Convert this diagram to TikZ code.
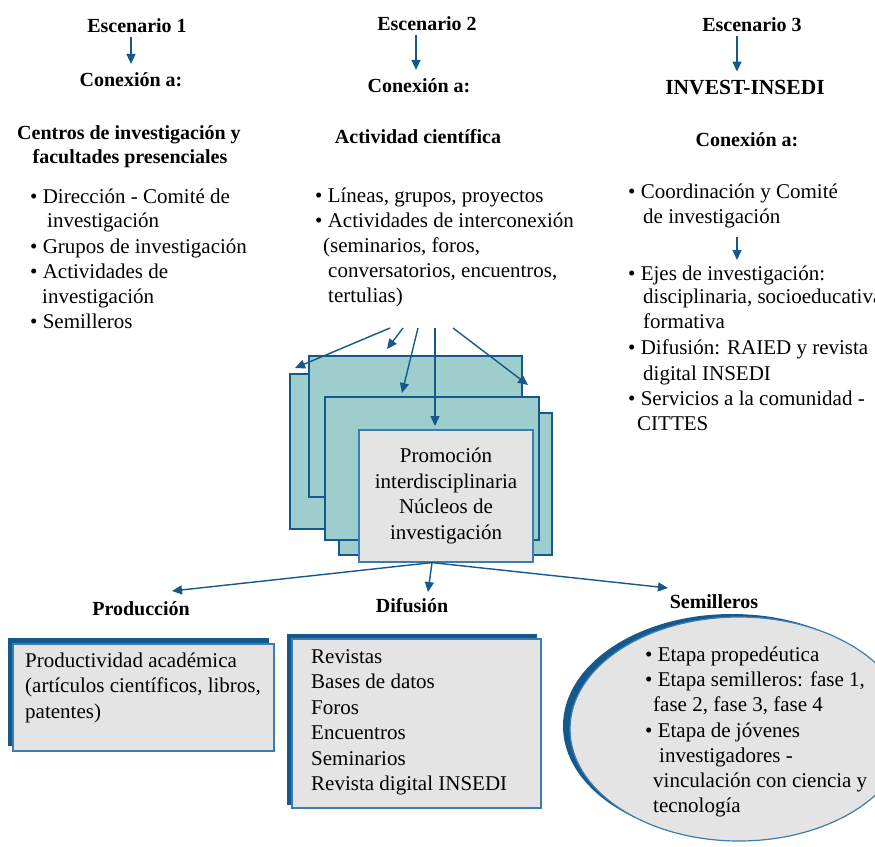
\documentclass[tikz,border=0pt]{standalone}
\usepackage{fontspec}
\setmainfont{Liberation Serif}
\usetikzlibrary{arrows.meta}
\definecolor{navy}{RGB}{20,88,140}
\definecolor{tealfill}{RGB}{157,205,205}
\definecolor{greyfill}{RGB}{227,228,227}
\definecolor{edgeblue}{RGB}{60,125,175}
\newcommand{\bodyfont}{\fontsize{21}{25.5}\selectfont}
\newcommand{\headfont}{\fontsize{20}{25}\selectfont\bfseries}
\begin{document}
\begin{tikzpicture}[x=1pt,y=-1pt,
  txt/.style={anchor=base west, inner sep=0pt, font=\bodyfont},
  hd/.style={anchor=base, inner sep=0pt, font=\headfont},
  arr/.style={draw=navy, line width=1.4pt, -{Triangle[length=10pt,width=9pt]}},
  tealbox/.style={draw=navy, line width=2.6pt, fill=tealfill},
  greybox/.style={draw=edgeblue, line width=1.2pt, fill=greyfill},
  shadowfill/.style={fill=navy, draw=none}]
\useasboundingbox (0,0) rectangle (875,846);

% ---------- Column 1 ----------
\node[hd] (e1) at (137,32) {Escenario 1};
\node[hd] (c1) at (131,86) {Conexión a:};
\node[hd] (t1a) at (129,139) {Centros de investigación y};
\node[hd] (t1b) at (130,163) {facultades presenciales};
\node[txt] (b1a) at (30,203) {• Dirección - Comité de};
\node[txt] (b1b) at (47,227) {investigación};
\node[txt] (b1c) at (30,253) {• Grupos de investigación};
\node[txt] (b1d) at (30,278) {• Actividades de};
\node[txt] (b1e) at (42,303) {investigación};
\node[txt] (b1f) at (30,328) {• Semilleros};
\coordinate (x1) at (131,0);
\draw[arr] ([yshift=-5pt]e1.south -| x1) -- ([yshift=8pt]c1.north -| x1);

% ---------- Column 2 ----------
\node[hd] (e2) at (427,30) {Escenario 2};
\node[hd] (c2) at (419,92) {Conexión a:};
\node[hd] (t2) at (418,143) {Actividad científica};
\node[txt] (b2a) at (315,202) {• Líneas, grupos, proyectos};
\node[txt] (b2b) at (315,227) {• Actividades de interconexión};
\node[txt] (b2c) at (323,252) {(seminarios, foros,};
\node[txt] (b2d) at (328,277) {conversatorios, encuentros,};
\node[txt] (b2e) at (328,302) {tertulias)};
\coordinate (x2) at (416,0);
\draw[arr] ([yshift=-5pt]e2.south -| x2) -- ([yshift=8pt]c2.north -| x2);

% ---------- Column 3 ----------
\node[hd] (e3) at (752,31) {Escenario 3};
\node[hd, font=\fontsize{21.5}{25}\selectfont\bfseries] (i3) at (745,94) {INVEST-INSEDI};
\node[hd] (c3) at (747,146) {Conexión a:};
\node[txt] (b3a) at (628,198) {• Coordinación y Comité};
\node[txt] (b3b) at (643,223) {de investigación};
\node[txt] (b3c) at (628,280) {• Ejes de investigación:};
\node[txt] (b3d) at (643,303) {disciplinaria, socioeducativa};
\node[txt] (b3e) at (643,328) {formativa};
\node[txt] (b3f) at (628,354) {• Difusión: RAIED y revista};
\node[txt] (b3g) at (643,380) {digital INSEDI};
\node[txt] (b3h) at (628,405) {• Servicios a la comunidad -};
\node[txt] (b3i) at (637,430) {CITTES};
\coordinate (x3) at (737,0);
\draw[arr] ([yshift=-5pt]e3.south -| x3) -- ([yshift=8pt]i3.north -| x3);
\coordinate (a3s) at (737,237);
\coordinate (a3e) at (737,260);
\draw[arr] (a3s) -- (a3e);

% ---------- Stack ----------
\draw[tealbox] (290,374) rectangle (505,529);
\draw[tealbox] (309,356) rectangle (522,497);
\draw[tealbox] (339,413) rectangle (552,555);
\draw[tealbox] (325,397) rectangle (539,540);
\node[greybox, minimum width=174pt, minimum height=132pt, align=center,
      font=\bodyfont, inner sep=0pt] (gb) at (446,496)
      {Promoción\\interdisciplinaria\\Núcleos de\\investigación};

\coordinate (s1) at (390,328); \coordinate (t1) at (295,368);
\coordinate (s2) at (403,328); \coordinate (t2) at (387,349);
\coordinate (s3) at (418,328); \coordinate (t3) at (402,393);
\coordinate (s4) at (435,328); \coordinate (t4) at (435,426);
\coordinate (s5) at (453,328); \coordinate (t5) at (528,385);
\foreach \i in {1,...,5} {\draw[arr] (s\i) -- (t\i);}

% ---------- Bottom labels ----------
\node[hd] (p) at (141,615) {Producción};
\node[hd] (d) at (412,612) {Difusión};
\node[hd] (s) at (714,608) {Semilleros};
\coordinate (tp) at (172,591);
\coordinate (td) at (428,592);
\coordinate (ts) at (668,588);
\draw[arr] ([xshift=-14pt]gb.south) -- (tp);
\draw[arr] ([xshift=-14pt]gb.south) -- (td);
\draw[arr] ([xshift=-14pt]gb.south) -- (ts);

% ---------- Producción box ----------
\fill[shadowfill] (8,638) rectangle (269,746);
\draw[greybox] (13,644) rectangle (274,751);
\node[txt] (p1) at (25,667) {Productividad académica};
\node[txt] (p2) at (25,692) {(artículos científicos, libros,};
\node[txt] (p3) at (25,718) {patentes)};

% ---------- Difusión box ----------
\fill[shadowfill] (287,634) rectangle (537,805);
\draw[greybox] (292,639) rectangle (541,808);
\node[txt] (d1) at (311,663) {Revistas};
\node[txt] (d2) at (311,688) {Bases de datos};
\node[txt] (d3) at (311,714) {Foros};
\node[txt] (d4) at (311,739) {Encuentros};
\node[txt] (d5) at (311,765) {Seminarios};
\node[txt] (d6) at (311,790) {Revista digital INSEDI};

% ---------- Semilleros ellipse ----------
\fill[shadowfill] (732,726) ellipse [x radius=169pt, y radius=112pt];
\draw[greybox] (739,729) ellipse [x radius=169pt, y radius=112pt];
\node[txt] (m1) at (645,661) {• Etapa propedéutica};
\node[txt] (m2) at (645,686) {• Etapa semilleros: fase 1,};
\node[txt] (m3) at (653,711) {fase 2, fase 3, fase 4};
\node[txt] (m4) at (645,737) {• Etapa de jóvenes};
\node[txt] (m5) at (659,762) {investigadores -};
\node[txt] (m6) at (653,787) {vinculación con ciencia y};
\node[txt] (m7) at (653,812) {tecnología};
\end{tikzpicture}
\end{document}
